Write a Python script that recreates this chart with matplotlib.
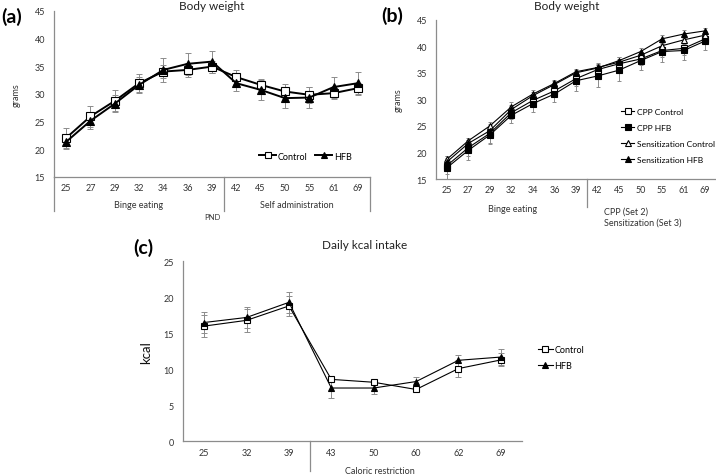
import matplotlib
matplotlib.use("Agg")
import matplotlib.pyplot as plt
from matplotlib.transforms import blended_transform_factory

plt.rcParams['font.family'] = ['Lato', 'DejaVu Sans']

# ---------------- data ----------------
pnd_ab = ['25', '27', '29', '32', '34', '36', '39', '42', '45', '50', '55', '61', '69']
a_control = [22.0, 25.9, 28.7, 31.9, 34.0, 34.3, 34.9, 33.0, 31.6, 30.4, 29.8, 30.1, 31.0]
a_hfb = [21.3, 25.1, 28.2, 31.6, 34.3, 35.4, 35.8, 31.9, 30.7, 29.2, 29.3, 31.2, 31.9]
a_control_err = [1.8, 1.9, 1.9, 1.6, 1.1, 1.2, 1.1, 1.2, 1.0, 1.3, 1.5, 1.0, 1.0]
a_hfb_err = [1.3, 1.5, 1.5, 1.5, 2.1, 2.0, 2.0, 1.4, 1.8, 1.8, 1.9, 1.9, 2.1]

b_cpp_control = [17.5, 20.9, 23.6, 27.5, 29.8, 31.6, 33.9, 35.6, 36.7, 37.6, 39.2, 39.6, 41.4]
b_cpp_hfb = [17.1, 20.4, 23.3, 27.0, 29.2, 31.0, 33.5, 34.4, 35.5, 37.3, 39.0, 39.2, 41.0]
b_sens_control = [18.7, 22.2, 25.0, 28.6, 31.0, 33.0, 35.2, 36.0, 37.0, 38.3, 40.1, 41.2, 42.1]
b_sens_hfb = [18.2, 21.7, 24.1, 28.1, 30.7, 32.8, 35.0, 35.9, 37.3, 39.0, 41.4, 42.3, 42.9]
b_cpp_control_err = [1.5, 1.5, 1.8, 1.2, 1.3, 1.2, 1.3, 1.3, 1.3, 1.2, 1.3, 1.3, 1.0]
b_cpp_hfb_err = [2.2, 1.9, 1.8, 1.5, 1.6, 1.5, 1.9, 2.0, 2.0, 1.7, 2.0, 1.7, 1.8]
b_sens_control_err = [0.6, 0.5, 0.7, 0.9, 0.7, 0.7, 0.6, 0.6, 0.6, 0.7, 0.7, 0.7, 0.6]
b_sens_hfb_err = [0.6, 0.5, 0.7, 0.9, 0.7, 0.7, 0.6, 0.6, 0.6, 0.7, 0.7, 0.7, 0.6]

c_days = ['25', '32', '39', '43', '50', '60', '62', '69']
c_control = [16.0, 16.8, 18.8, 8.6, 8.2, 7.2, 10.1, 11.3]
c_hfb = [16.5, 17.2, 19.3, 7.4, 7.4, 8.3, 11.25, 11.7]
c_control_err = [1.5, 1.6, 1.4, 0.4, 0.3, 0.2, 1.2, 0.9]
c_hfb_err = [1.5, 1.5, 1.5, 1.4, 0.8, 0.6, 0.8, 1.1]

# ---------------- figure ----------------
W, H = 716, 477
fig = plt.figure(figsize=(W / 100, H / 100), dpi=100)

def fx(p):
    return p / W

def fy(p):
    return 1 - p / H

def axes_px(l, t, r, b):
    return fig.add_axes([fx(l), fy(b), fx(r) - fx(l), (b - t) / H])

GRAY = '#8c8c8c'
TFS = 6.5

def style(ax, n, ylim, yticks, labels):
    ax.set_xlim(-0.5, n - 0.5)
    ax.set_ylim(*ylim)
    ax.set_yticks(yticks)
    ax.set_xticks(range(n))
    ax.set_xticklabels(labels)
    for s in ['top', 'right']:
        ax.spines[s].set_visible(False)
    for s in ['left', 'bottom']:
        ax.spines[s].set_color(GRAY)
        ax.spines[s].set_linewidth(0.9)
    ax.tick_params(axis='both', length=0, labelsize=TFS, colors='#333333')
    ax.tick_params(axis='y', pad=6.5)
    ax.tick_params(axis='x', pad=4.5)

def vline_below(ax, xd, depth_px, height_px):
    tr = blended_transform_factory(ax.transData, ax.transAxes)
    ax.plot([xd, xd], [0, -depth_px / height_px], color=GRAY, lw=0.9,
            transform=tr, clip_on=False)

def series(ax, x, y, err, marker, mfc, ms, lw, capsize):
    ax.errorbar(x, y, yerr=err, fmt='none', ecolor=GRAY, elinewidth=0.7,
                capsize=capsize, capthick=0.7, zorder=1)
    return ax.plot(x, y, color='black', lw=lw, marker=marker, mfc=mfc,
                   mec='black', ms=ms, mew=0.8, zorder=3)[0]

# ---------------- panel (a) ----------------
axa = axes_px(54, 11.7, 370, 177.7)
xa = list(range(len(pnd_ab)))
style(axa, len(pnd_ab), (15, 45), range(15, 46, 5), pnd_ab)
la1 = series(axa, xa, a_control, a_control_err, 's', 'white', 5.3, 1.4, 2)
la2 = series(axa, xa, a_hfb, a_hfb_err, '^', 'black', 5.3, 1.4, 2)
for xd in (-0.5, 6.5, 12.5):
    vline_below(axa, xd, 34, 166)
axa.set_ylabel('grams', fontsize=6.5, color='#333333', labelpad=10)
axa.legend([la1, la2], ['Control', 'HFB'], ncol=2, frameon=False,
           fontsize=TFS, handlelength=1.9, handletextpad=0.2, columnspacing=0.8,
           markerscale=0.8,
           loc='center left', bbox_to_anchor=(fx(251), fy(157)),
           bbox_transform=fig.transFigure)
fig.text(fx(212), fy(6), 'Body weight', ha='center', va='center', fontsize=8.5, color='#222222')
fig.text(fx(139), fy(206), 'Binge eating', ha='center', va='center', fontsize=TFS, color='#333333')
fig.text(fx(297), fy(206), 'Self administration', ha='center', va='center', fontsize=TFS, color='#333333')
fig.text(fx(212), fy(218), 'PND', ha='center', va='center', fontsize=5.5, color='#333333')
fig.text(fx(1), fy(17), '(a)', ha='left', va='center', fontsize=14, fontweight='bold')

# ---------------- panel (b) ----------------
axb = axes_px(436, 20.7, 716, 180)
xb = list(range(len(pnd_ab)))
style(axb, len(pnd_ab), (15, 45), range(15, 46, 5), pnd_ab)
lb1 = series(axb, xb, b_cpp_control, b_cpp_control_err, 's', 'white', 4.2, 0.8, 1.5)
lb2 = series(axb, xb, b_cpp_hfb, b_cpp_hfb_err, 's', 'black', 4.2, 0.8, 1.5)
lb3 = series(axb, xb, b_sens_control, b_sens_control_err, '^', 'white', 4.2, 0.8, 1.5)
lb4 = series(axb, xb, b_sens_hfb, b_sens_hfb_err, '^', 'black', 4.2, 0.8, 1.5)
vline_below(axb, 6.5, 28, 159.3)
axb.set_ylabel('grams', fontsize=6.5, color='#333333', labelpad=10)
axb.legend([lb1, lb2, lb3, lb4],
           ['CPP Control', 'CPP HFB', 'Sensitization Control', 'Sensitization HFB'],
           frameon=False, fontsize=6.1, handlelength=1.6, handletextpad=0.25,
           labelspacing=1.05, borderpad=0.2, loc='center left',
           bbox_to_anchor=(fx(615), fy(136.5)), bbox_transform=fig.transFigure)
fig.text(fx(567), fy(7), 'Body weight', ha='center', va='center', fontsize=8.5, color='#222222')
fig.text(fx(513), fy(210), 'Binge eating', ha='center', va='center', fontsize=TFS, color='#333333')
fig.text(fx(604), fy(212), 'CPP (Set 2)', ha='left', va='center', fontsize=TFS, color='#333333')
fig.text(fx(604), fy(223), 'Sensitization (Set 3)', ha='left', va='center', fontsize=TFS, color='#333333')
fig.text(fx(392), fy(16), '(b)', ha='center', va='center', fontsize=14, fontweight='bold')

# ---------------- panel (c) ----------------
axc = axes_px(183, 262.3, 522, 442.3)
xc = list(range(len(c_days)))
style(axc, len(c_days), (0, 25), range(0, 26, 5), c_days)
lc1 = series(axc, xc, c_control, c_control_err, 's', 'white', 4.5, 0.8, 2)
lc2 = series(axc, xc, c_hfb, c_hfb_err, '^', 'black', 4.5, 0.8, 2)
vline_below(axc, 2.5, 30, 180)
axc.set_ylabel('kcal', fontsize=9.5, color='#111111', labelpad=8)
axc.legend([lc1, lc2], ['Control', 'HFB'], frameon=False, fontsize=TFS,
           handlelength=1.6, handletextpad=0.2, labelspacing=0.7,
           loc='center left', bbox_to_anchor=(fx(530), fy(358.5)),
           bbox_transform=fig.transFigure)
fig.text(fx(365), fy(246), 'Daily kcal intake', ha='center', va='center', fontsize=8.5, color='#222222')
fig.text(fx(380), fy(472), 'Caloric restriction', ha='center', va='center', fontsize=TFS, color='#333333')
fig.text(fx(143), fy(248), '(c)', ha='center', va='center', fontsize=14, fontweight='bold')

fig.savefig('out.png', dpi=100)
